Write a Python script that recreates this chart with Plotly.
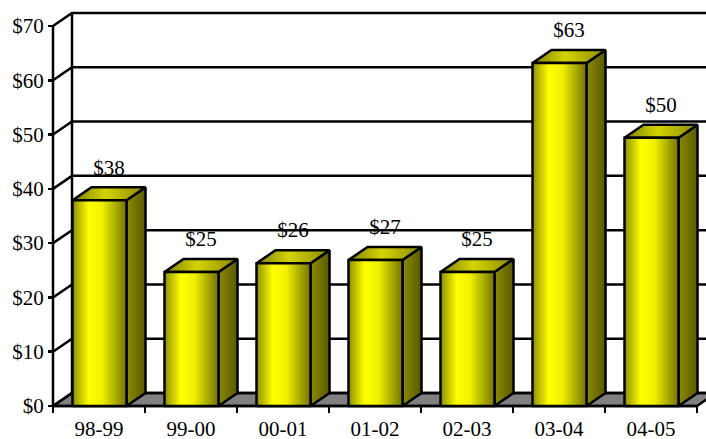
import plotly.graph_objects as go

# ---- data ----
categories = ["98-99", "99-00", "00-01", "01-02", "02-03", "03-04", "04-05"]
values = [37.9, 24.7, 26.3, 26.9, 24.7, 63.2, 49.4]
labels = ["$38", "$25", "$26", "$27", "$25", "$63", "$50"]
y_ticks = [0, 10, 20, 30, 40, 50, 60, 70]
y_tick_text = ["$0", "$10", "$20", "$30", "$40", "$50", "$60", "$70"]

# ---- geometry (pixel scales -> data units) ----
W, H = 706, 439
X0_PX, Y0_PX = 53, 406            # front origin in pixels
PX_PER_CAT = 92.0
PX_PER_VAL = 380.0 / 70.0
DX = 19 / PX_PER_CAT              # depth offset in category units
DY = 13 / PX_PER_VAL              # depth offset in value units
GAP = 19.5 / PX_PER_CAT
BW = 54 / PX_PER_CAT
N = len(categories)
YMAX = 70
LW = 2.5

x_range = [-X0_PX / PX_PER_CAT, (W - X0_PX) / PX_PER_CAT]
y_range = [-(H - Y0_PX) / PX_PER_VAL, Y0_PX / PX_PER_VAL]

FONT = "Liberation Serif, Times New Roman, serif"
fig = go.Figure()

def poly(xs, ys, fill=None, grad=None, lw=LW, color="black"):
    kw = dict(x=xs + [xs[0]], y=ys + [ys[0]], mode="lines",
              line=dict(color=color, width=lw), hoverinfo="skip",
              showlegend=False)
    if fill or grad:
        kw["fill"] = "toself"
        if grad:
            kw["fillgradient"] = dict(type="horizontal", colorscale=grad)
        else:
            kw["fillcolor"] = fill
    fig.add_trace(go.Scatter(**kw))

# floor
poly([0, N, N + DX, DX], [0, 0, DY, DY], fill="#808080")

# value labels (drawn under gridlines like the original)
lx = [i + GAP + BW / 2 + DX / 2 for i in range(N)]
ly = [v + DY + 18 / PX_PER_VAL for v in values]
fig.add_trace(go.Scatter(x=lx, y=ly, mode="text", text=labels,
                         textposition="middle center",
                         textfont=dict(family=FONT, size=21, color="black"),
                         hoverinfo="skip", showlegend=False))

# back wall gridlines and left wall diagonals
gx, gy = [], []
for v in y_ticks:
    gx += [0, DX, x_range[1] + 1, None]
    gy += [v, v + DY, v + DY, None]
gx += [DX, DX, None]
gy += [DY, YMAX + DY, None]
fig.add_trace(go.Scatter(x=gx, y=gy, mode="lines",
                         line=dict(color="black", width=LW),
                         hoverinfo="skip", showlegend=False))

# front axes lines
fig.add_trace(go.Scatter(x=[0, 0, None, 0, N], y=[YMAX, 0, None, 0, 0],
                         mode="lines", line=dict(color="black", width=LW),
                         hoverinfo="skip", showlegend=False))

front_grad = [[0, "#8e8e00"], [0.3, "#ffff00"], [0.55, "#f0f000"], [1, "#747400"]]
side_grad = [[0, "#8a8a00"], [1, "#5a5a00"]]
top_grad = [[0, "#7e7e00"], [0.45, "#d4d400"], [1, "#8a8a00"]]

for i, v in enumerate(values):
    x1 = i + GAP
    x2 = x1 + BW
    # side
    poly([x2, x2 + DX, x2 + DX, x2], [0, DY, v + DY, v], grad=side_grad)
    # top
    poly([x1, x2, x2 + DX, x1 + DX], [v, v, v + DY, v + DY], grad=top_grad)
    # front
    poly([x1, x2, x2, x1], [0, 0, v, v], grad=front_grad)

fig.update_layout(
    width=W, height=H,
    margin=dict(l=0, r=0, t=0, b=0, pad=0, autoexpand=False),
    paper_bgcolor="white", plot_bgcolor="white",
    showlegend=False,
    xaxis=dict(range=x_range, anchor="free", position=(H - Y0_PX) / H,
               tickvals=[i + 0.5 for i in range(N)], ticktext=categories,
               ticks="", showline=False, showgrid=False, zeroline=False,
               ticklabelstandoff=8, automargin=False,
               tickfont=dict(family=FONT, size=21, color="black"),
               fixedrange=True),
    xaxis2=dict(range=x_range, overlaying="x", anchor="free",
                position=(H - Y0_PX) / H, side="bottom", automargin=False,
                tickvals=list(range(N + 1)), ticks="outside", ticklen=6,
                tickwidth=LW, tickcolor="black", showticklabels=False,
                showline=False, showgrid=False, zeroline=False,
                fixedrange=True),
    yaxis=dict(range=y_range, anchor="free", position=X0_PX / W,
               tickvals=y_ticks, ticktext=y_tick_text, automargin=False,
               ticks="outside", ticklen=5, tickwidth=LW, tickcolor="black",
               showline=False, showgrid=False, zeroline=False,
               tickfont=dict(family=FONT, size=21, color="black"),
               fixedrange=True),
)
# dummy trace to activate xaxis2
fig.add_trace(go.Scatter(x=[None], y=[None], xaxis="x2", yaxis="y",
                         showlegend=False, hoverinfo="skip"))

fig.write_html(
    "out.html",
    config={"displayModeBar": False, "staticPlot": True},
    post_script="document.body.style.margin='0';document.body.style.overflow='hidden';",
)
